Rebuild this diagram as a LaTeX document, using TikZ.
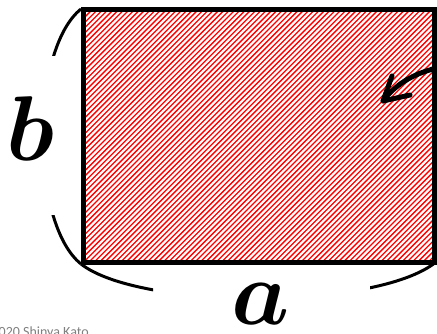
\documentclass[tikz,border=0pt]{standalone}
\usepackage{fontspec}
\usepackage{graphicx}
\newfontfamily\notefont{Carlito}
\newcommand{\bigmath}[1]{\scalebox{3.7}{\Huge\boldmath$#1$}}
\begin{document}
\begin{tikzpicture}[x=1pt,y=-1pt,
  brace/.style={line width=3pt,black},
  hatch/.style={red,line width=1.3pt},
  frame/.style={line width=5pt,black,line join=miter},
  bigletter/.style={inner sep=0pt},
  note/.style={inner sep=0pt,font=\notefont\fontsize{14}{14}\selectfont,text=black!50},
  pointer/.style={line width=5pt,black,line cap=round,line join=round}]
\useasboundingbox (0,0) rectangle (437,334);
\fill[white] (0,0) rectangle (437,334);
% hatching
\begin{scope}
  \clip (83,10) rectangle (434.5,263);
  \foreach \c in {-300,-294.7,...,450} {
    \draw[hatch] (\c,280) -- (\c+280,0);
  }
\end{scope}
% rectangle
\coordinate (tl) at (83,10);
\coordinate (br) at (434.5,263);
\draw[frame] (tl) rectangle (br);
% left brace
\coordinate (lt) at (81,9);
\coordinate (lb) at (81,264);
\begin{scope}
  \clip (0,0) rectangle (95,56);
  \draw[brace] (lt) .. controls (30,50) and (30,223) .. (lb);
\end{scope}
\begin{scope}
  \clip (0,216) rectangle (95,280);
  \draw[brace] (lt) .. controls (30,50) and (30,223) .. (lb);
\end{scope}
% bottom brace
\coordinate (bl) at (81,264);
\coordinate (brr) at (436,262);
\begin{scope}
  \clip (60,250) rectangle (153,334);
  \draw[brace] (bl) .. controls (140,310) and (377,310) .. (brr);
\end{scope}
\begin{scope}
  \clip (370,250) rectangle (437,334);
  \draw[brace] (bl) .. controls (140,310) and (377,310) .. (brr);
\end{scope}
% labels
\node[bigletter] (lb-b) at (30.5,129) {\bigmath{b}};
\node[bigletter] (lb-a) at (261,304) {\bigmath{a}};
% pointer arrow
\coordinate (ps) at (437,68);
\coordinate (pt) at (383,101);
\coordinate (pb1) at (392,76);
\coordinate (pb2) at (410,95);
\draw[pointer] (ps) .. controls (412,74) and (395,85) .. (pt);
\draw[pointer] (pb1) -- (pt) -- (pb2);
% copyright
\node[note,anchor=base east] (copy) at (89,336) {\char"00A9 2020 Shinya Kato};
\end{tikzpicture}
\end{document}
